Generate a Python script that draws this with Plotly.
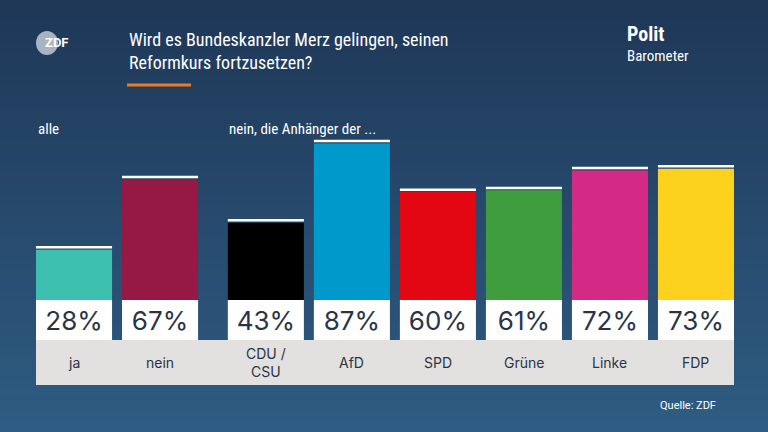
import plotly.graph_objects as go

labels = ["ja", "nein", "CDU /<br>CSU", "AfD", "SPD", "Grüne", "Linke", "FDP"]
values = [28, 67, 43, 87, 60, 61, 72, 73]
colors = ["#3dbfb0", "#951845", "#000000", "#0099cc", "#e30613", "#3f9c3f", "#d32a86", "#fdd21f"]
positions = [0, 1, 2.23, 3.23, 4.23, 5.23, 6.23, 7.23]

W, H = 768, 432
fig = go.Figure()
bw = 0.884
fig.add_bar(x=positions, y=values, marker_color=colors, width=bw, marker_line_width=0)
fig.add_bar(x=positions, y=[0.6] * 8, base=values, marker_color="rgba(0,0,0,0)", width=bw, marker_line_width=0)
fig.add_bar(x=positions, y=[1.4] * 8, base=[v + 0.6 for v in values], marker_color="white", width=bw, marker_line_width=0)
fig.add_bar(x=positions, y=[22.2] * 8, base=[-22.2] * 8, marker_color="white", width=bw, marker_line_width=0,
            text=[f"{v}%" for v in values], textposition="inside", insidetextanchor="middle",
            textfont=dict(size=26, color="#2a3447", family="Inter"))

shapes = []
n = 40
c1, c2 = (31, 56, 88), (47, 92, 130)
for i in range(n):
    t = i / (n - 1)
    col = tuple(int(c1[k] + (c2[k] - c1[k]) * t) for k in range(3))
    shapes.append(dict(type="rect", xref="paper", yref="paper", x0=-0.1, x1=1.1,
                       y0=1 - (i + 1) / n, y1=1 - i / n + 0.001, fillcolor="rgb(%d,%d,%d)" % col,
                       line_width=0, layer="below"))
shapes.append(dict(type="rect", xref="x", yref="y", x0=-0.442, x1=7.672, y0=-47.2, y1=-22.2,
                   fillcolor="#e3e1e0", line_width=0, layer="below"))
shapes.append(dict(type="line", xref="paper", yref="paper", x0=127 / W, x1=191 / W,
                   y0=1 - 85 / H, y1=1 - 85 / H, line=dict(color="#f07a1e", width=3)))
shapes.append(dict(type="circle", xref="paper", yref="paper", x0=36 / W, x1=58 / W,
                   y0=1 - 55 / H, y1=1 - 31 / H, fillcolor="#a9b4c2", line_width=0))

ann = []
for p, l in zip(positions, labels):
    ann.append(dict(x=p, y=-34.7, xref="x", yref="y", text=l, showarrow=False,
                    font=dict(size=14, color="#2a3447", family="Inter")))
narrow = "Liberation Sans Narrow, Roboto Condensed, Roboto"
def pa(x, y, text, size, family=narrow, xanchor="left"):
    return dict(x=x / W, y=1 - y / H, xref="paper", yref="paper", xanchor=xanchor, yanchor="middle",
                align="left", text=text, showarrow=False, font=dict(size=size, color="white", family=family))
ann += [
    pa(127, 51, "Wird es Bundeskanzler Merz gelingen, seinen<br>Reformkurs fortzusetzen?", 18),
    pa(36, 129, "alle", 15),
    pa(227, 129, "nein, die Anhänger der ...", 15),
    pa(56, 43, "<b>ZDF</b>", 13, "Roboto", "center"),
    pa(625, 34, "<b>Polit</b>", 20),
    pa(625, 56, "Barometer", 15),
    pa(718, 405, "Quelle: ZDF", 11, "Roboto", "right"),
]

fig.update_layout(
    width=W, height=H, margin=dict(l=0, r=0, t=0, b=0), barmode="overlay", showlegend=False,
    paper_bgcolor="#25476c", plot_bgcolor="rgba(0,0,0,0)", shapes=shapes, annotations=ann,
    xaxis=dict(range=[-0.442, 7.672], domain=[36 / W, 734 / W], visible=False, fixedrange=True),
    yaxis=dict(range=[-47.2, 166.7], domain=[(432 - 385) / H, 1], visible=False, fixedrange=True),
)
fig.write_html("out.html", post_script="document.body.style.margin='0';document.body.style.overflow='hidden';",
               config={"displayModeBar": False})
